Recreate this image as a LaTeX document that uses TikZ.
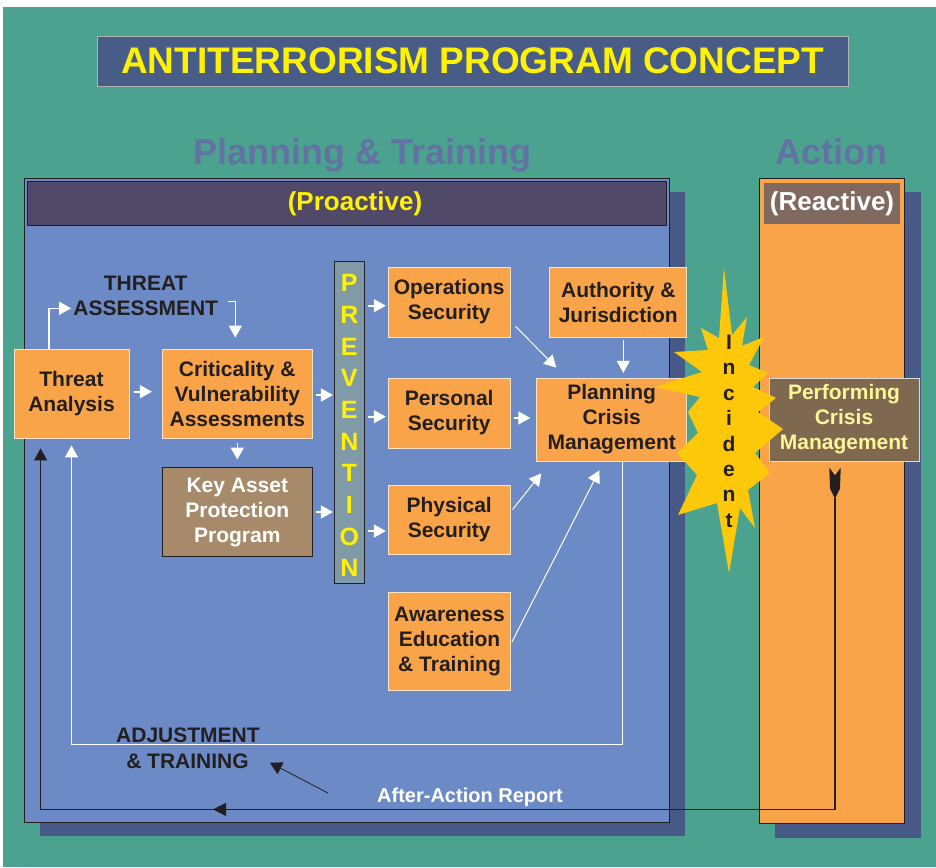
\documentclass[tikz,border=0pt]{standalone}
\usepackage{fontspec}
\setmainfont{Liberation Sans}
\usetikzlibrary{arrows.meta,calc,decorations.markings}
\definecolor{bgteal}{HTML}{4BA38F}
\definecolor{panelblue}{HTML}{6C8AC5}
\definecolor{shadowblue}{HTML}{475A87}
\definecolor{headpurple}{HTML}{504A68}
\definecolor{titleblue}{HTML}{485C88}
\definecolor{ghostblue}{HTML}{6272A3}
\definecolor{boxorange}{HTML}{F9A448}
\definecolor{boxedge}{HTML}{FBE3C6}
\definecolor{assetbrown}{HTML}{A68A6A}
\definecolor{actbrown}{HTML}{7E6850}
\definecolor{reactbrown}{HTML}{806A5F}
\definecolor{prevgray}{HTML}{809AA8}
\definecolor{burstyellow}{HTML}{FEC80A}
\definecolor{inkdark}{HTML}{231F20}
\definecolor{paleyellow}{HTML}{FFF596}
\definecolor{titleyellow}{HTML}{FFF200}
\begin{document}
\begin{tikzpicture}[x=1pt,y=-1pt]
\tikzstyle{every node}+=[inner sep=2pt]
\tikzstyle{box}=[draw=boxedge, line width=0.8pt, fill=boxorange, text=inkdark, align=center, font=\fontsize{21}{25}\selectfont\bfseries]
\tikzstyle{lbl}=[text=inkdark, font=\fontsize{21}{25}\selectfont\bfseries]
\tikzstyle{warrow}=[draw=white, line width=1.6pt, -{Triangle[width=13pt,length=12pt]}]
\tikzstyle{wthin}=[draw=white, line width=1pt, -{Triangle[width=13pt,length=12pt]}]
\tikzstyle{barrow}=[draw=inkdark, line width=1.1pt, -{Triangle[width=13pt,length=12pt]}]
\fill[white] (0,0) rectangle (936,867);
\useasboundingbox (0,0) rectangle (936,867);
\fill[bgteal] (3,7) rectangle (936,867);
\node[fill=titleblue, draw=gray!60, line width=0.8pt, minimum width=751, minimum height=50, text=titleyellow, font=\fontsize{37}{40}\selectfont\bfseries] (title) at (472.7,61) {ANTITERRORISM PROGRAM CONCEPT};
\node[text=ghostblue, font=\fontsize{36}{40}\selectfont\bfseries, anchor=base] (plantrain) at (362.5,164) {Planning \& Training};
\node[text=ghostblue, font=\fontsize{36}{40}\selectfont\bfseries, anchor=base] (action) at (831.5,164) {Action};
\fill[shadowblue] (40,192.3) rectangle (684.8,836);
\fill[shadowblue] (775,192.3) rectangle (921,838);
\filldraw[fill=panelblue, draw=inkdark, line width=0.8pt] (24.5,178.3) rectangle (669.3,822);
\filldraw[fill=boxorange, draw=inkdark, line width=0.8pt] (759.3,178.3) rectangle (904.4,823);
\node[draw=inkdark, fill=headpurple, line width=0.8pt, minimum width=638.8, minimum height=44] (prohead) at (346.9,203.7) {};
\node[text=titleyellow, font=\fontsize{26}{30}\selectfont\bfseries] (protext) at (355,204) {(Proactive)};
\node[fill=reactbrown, minimum width=136, minimum height=41, text=white, font=\fontsize{26}{30}\selectfont\bfseries] (reacthead) at (832,203.4) {(Reactive)};
\node[lbl] (thr) at (145.7,283.3) {THREAT};
\node[lbl] (asm) at (145.7,308.3) {ASSESSMENT};
\node[box, minimum width=115, minimum height=89] (threat) at (71.5,393.5) {Threat\\Analysis};
\node[box, minimum width=150, minimum height=89] (crit) at (237.3,393.5) {Criticality \&\\Vulnerability\\Assessments};
\node[box, fill=assetbrown, draw=inkdark, text=white, minimum width=150, minimum height=89] (asset) at (237.3,512) {Key Asset\\Protection\\Program};
\node[draw=inkdark, fill=prevgray, line width=0.8pt, minimum width=30, minimum height=322] (prev) at (349.3,422.2) {};
\foreach \l [count=\i] in {P,R,E,V,E,N,T,I,O,N}
  \node[text=titleyellow, font=\fontsize{25}{25}\selectfont\bfseries, inner sep=0pt] (pv\i) at (349.3,{283.3+31.67*(\i-1)}) {\l};
\node[box, minimum width=122, minimum height=70] (ops) at (449.2,302) {Operations\\Security};
\node[box, minimum width=122, minimum height=70] (pers) at (449.2,413) {Personal\\Security};
\node[box, minimum width=122, minimum height=69] (phys) at (449.2,519.5) {Physical\\Security};
\node[box, minimum width=122, minimum height=98] (aware) at (449.5,641) {Awareness\\Education\\\& Training};
\node[box, minimum width=137, minimum height=70] (auth) at (618.3,302) {Authority \&\\Jurisdiction};
\node[box, minimum width=150, minimum height=83] (plan) at (611.7,419.5) {Planning\\Crisis\\Management};
\node[box, fill=actbrown, draw=gray!30, text=paleyellow, minimum width=150, minimum height=83] (perf) at (844,419.5) {Performing\\Crisis\\Management};
\node[lbl] (adj) at (188,735.7) {ADJUSTMENT};
\node[lbl] (trn) at (187.5,761.7) {\& TRAINING};
\node[text=white, font=\fontsize{20}{24}\selectfont\bfseries] (aar) at (470,797) {After-Action Report};
\draw[warrow] ($(threat.north west)+(35.5,0)$) |- (asm.west);
\draw[warrow] ($(asm.east)+(8,-7)$) -| ($(crit.north)+(-2,-11)$);
\draw[warrow, shorten <=4.5pt, shorten >=10pt] ([yshift=1.8pt]threat.east) -- ([yshift=1.8pt]crit.west);
\draw[warrow, shorten <=3pt, shorten >=1pt] ([yshift=-1.5pt]crit.east) -- ([yshift=-1.5pt]crit.east -| prev.west);
\draw[warrow, shorten <=4.5pt, shorten >=7.5pt] (crit) -- (asset);
\draw[warrow, shorten <=3pt, shorten >=1pt] (asset) -- (asset -| prev.west);
\draw[warrow, shorten <=3.5pt, shorten >=2pt] ([yshift=-3.7pt]prev.east |- ops.west) -- ([yshift=-3.7pt]ops.west);
\draw[warrow, shorten <=3.5pt, shorten >=2pt] ([yshift=-3.7pt]prev.east |- pers.west) -- ([yshift=-3.7pt]pers.west);
\draw[warrow, shorten <=3.5pt, shorten >=2pt] ([yshift=-11.5pt]prev.east |- phys.west) -- ([yshift=-11.5pt]phys.west);
\draw[wthin] ($(ops.south east)+(5,-11)$) -- ($(plan.north west)+(20,-10)$);
\draw[wthin] ($(auth.south)+(5,2.6)$) -- ($(plan.north)+(11.6,-4.7)$);
\draw[warrow, shorten <=3.3pt, shorten >=6pt] ([yshift=-5pt]pers.east) -- ([yshift=-5pt]pers.east -| plan.west);
\draw[wthin] ($(phys.east)+(2,-10)$) -- ($(plan.south west)+(5,12)$);
\draw[wthin] ($(aware.east)+(1,1)$) -- ($(plan.south)+(-12.4,9)$);
\draw[wthin, line width=1.2pt] ($(plan.south)+(10.6,0)$) -- ++(0,283) -| ($(threat.south)+(0,7)$);
\fill[inkdark] ($(perf.south)+(-14.7,6.3)$) -- ++(5.7,7.7) -- ++(5.7,-7.7) -- ++(-0.7,21) -- ++(-5,10) -- ++(-5,-10) -- cycle;
\draw[barrow, postaction={decorate}, decoration={markings, mark=at position 933pt with {\arrow{Triangle[width=13pt,length=13pt]}}}] ($(perf.south)+(-9,37)$) -- ++(0,311) -| ($(threat.south west)+(27,10)$);
\draw[barrow, line width=0.8pt] ($(aar.west)+(-47,-4)$) -- ($(trn.east)+(19,1)$);
\fill[burstyellow] (724,268) -- (732,335) -- (747,317) -- (742,346) -- (764,337) -- (749,365) -- (768,373) -- (753,387) -- (776,398) -- (758,412) -- (783,429) -- (755,453) -- (770,473) -- (748,490) -- (755,528) -- (740,508) -- (729,573) -- (717,503) -- (678,515) -- (697,475) -- (677,453) -- (698,433) -- (688,412) -- (700,397) -- (655,387) -- (702,372) -- (674,352) -- (708,350) -- (701,328) -- (719,338) -- cycle;
\foreach \l [count=\i] in {I,n,c,i,d,e,n,t}
  \node[text=inkdark, font=\fontsize{21}{21}\selectfont\bfseries, anchor=base, inner sep=0pt] (inc\i) at (729,{349.5+25.4*(\i-1)}) {\l};
\end{tikzpicture}
\end{document}
